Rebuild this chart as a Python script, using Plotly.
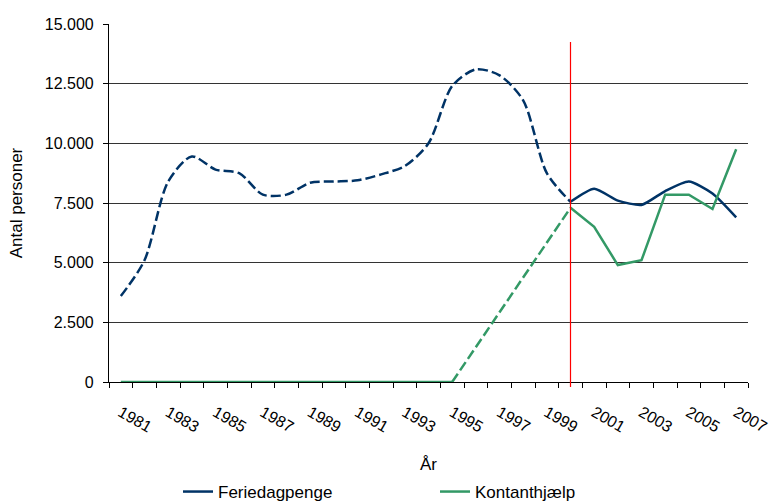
import plotly.graph_objects as go

# ---- data ----
years = list(range(1981, 2008))
feriedagpenge = [3600, 5100, 8400, 9450, 8900, 8750, 7850, 7850, 8350, 8400,
                 8450, 8700, 9050, 10000, 12400, 13100, 12850, 11800, 8750, 7550,
                 8100, 7600, 7420, 8000, 8400, 7900, 6900]
kontanthjaelp = [0, 0, 0, 0, 0, 0, 0, 0, 0, 0,
                 0, 0, 0, 0, 0, None, None, None, None, 7300,
                 6500, 4900, 5100, 7850, 7850, 7250, 9750]
tick_years = list(range(1981, 2008, 2))
y_ticks = [0, 2500, 5000, 7500, 10000, 12500, 15000]
grid_ticks = [2500, 5000, 7500, 10000, 12500]
cut_year = 2000          # dashed before, solid after
green_zero_end = 1995    # green zero period drawn solid

BLUE = "#003366"
GREEN = "#339966"
FONT = "Liberation Sans, Arial, sans-serif"
DASH = "10px,4px"

ci = years.index(cut_year)
gi = years.index(green_zero_end)

fig = go.Figure()

# Feriedagpenge: dashed part then solid part
fig.add_trace(go.Scatter(x=years[:ci + 1], y=feriedagpenge[:ci + 1], mode="lines",
                         line=dict(color=BLUE, width=2.5, dash=DASH, shape="spline", smoothing=0.8),
                         showlegend=False, hoverinfo="skip"))
fig.add_trace(go.Scatter(x=years[ci:], y=feriedagpenge[ci:], mode="lines", name="Feriedagpenge",
                         line=dict(color=BLUE, width=2.5, shape="spline", smoothing=0.6),
                         legend="legend"))

# Kontanthjælp: solid zero part, dashed gap, solid part
fig.add_trace(go.Scatter(x=years[:gi + 1], y=kontanthjaelp[:gi + 1], mode="lines",
                         line=dict(color=GREEN, width=2.5), showlegend=False, hoverinfo="skip"))
fig.add_trace(go.Scatter(x=years[gi:ci + 1], y=kontanthjaelp[gi:ci + 1], mode="lines",
                         connectgaps=True,
                         line=dict(color=GREEN, width=2.5, dash=DASH),
                         showlegend=False, hoverinfo="skip"))
fig.add_trace(go.Scatter(x=years[ci:], y=kontanthjaelp[ci:], mode="lines", name="Kontanthjælp",
                         line=dict(color=GREEN, width=2.5), legend="legend2"))

# grid-only overlay axis (no gridline at the top)
fig.add_trace(go.Scatter(x=[years[0]], y=[0], yaxis="y2", mode="markers",
                         marker=dict(opacity=0), showlegend=False, hoverinfo="skip"))

fig.add_shape(type="line", xref="x", yref="paper", x0=cut_year, x1=cut_year,
              y0=-0.014, y1=0.95, line=dict(color="red", width=1.2), layer="above")

fig.update_layout(
    width=781, height=504,
    margin=dict(l=109, r=33, t=24, b=122),
    paper_bgcolor="white", plot_bgcolor="white",
    font=dict(family=FONT, size=16, color="black"),
    separators=",.",
    xaxis=dict(range=[years[0] - 0.5, years[-1] + 0.5], automargin=False,
               tickvals=tick_years, ticktext=[str(y) for y in tick_years],
               tickangle=30, ticks="", showgrid=False,
               showline=True, linecolor="black", linewidth=1.2,
               ticklabelstandoff=14,
               minor=dict(tick0=years[0] - 0.5, dtick=1, ticks="outside",
                          ticklen=5, tickcolor="black", tickwidth=1, showgrid=False),
               title=dict(text="År", font=dict(size=17), standoff=32),
               zeroline=False),
    yaxis=dict(range=[0, 15000], tickvals=y_ticks, tickformat=",d", automargin=False,
               showgrid=False, showline=True, linecolor="black", linewidth=1.2,
               ticks="outside", ticklen=5, tickcolor="black", tickwidth=1,
               ticklabelstandoff=6,
               title=dict(text="Antal personer", font=dict(size=17), standoff=17),
               zeroline=False),
    yaxis2=dict(range=[0, 15000], overlaying="y", tickvals=grid_ticks, automargin=False,
                showticklabels=False, showgrid=True, gridcolor="#333333", gridwidth=1.2,
                zeroline=False, showline=False, ticks=""),
    legend=dict(orientation="h", x=(178 - 109) / 639, xanchor="left",
                yref="container", y=1 - 492 / 504, yanchor="middle", font=dict(size=17),
                bgcolor="rgba(0,0,0,0)"),
    legend2=dict(orientation="h", x=(435 - 109) / 639, xanchor="left",
                 yref="container", y=1 - 492 / 504, yanchor="middle", font=dict(size=17),
                 bgcolor="rgba(0,0,0,0)"),
    showlegend=True,
)

fig.write_html("out.html", config={"displayModeBar": False},
               post_script="document.body.style.margin='0';")
